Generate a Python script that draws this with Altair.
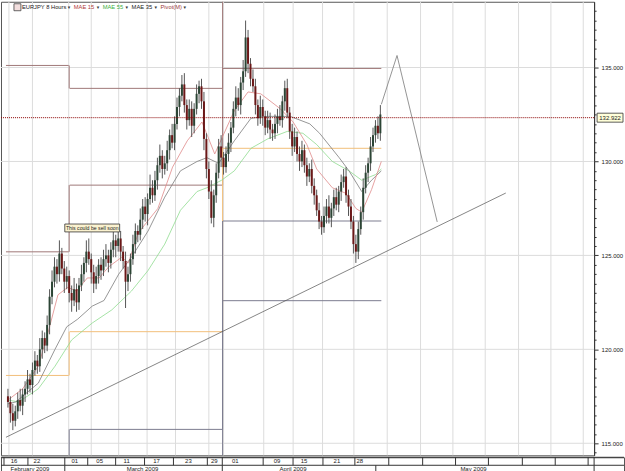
import altair as alt
import pandas as pd

# ---------------- candle data (EURJPY, 8 hour bars) ----------------
first_open = 117.5
closes = [117.2,116.6,116.2,116.7,117.3,117.0,117.6,117.9,118.4,118.1,
          118.9,119.4,119.1,120.0,120.6,120.2,121.3,122.8,123.6,124.4,
          124.0,125.1,124.3,123.6,123.9,123.0,122.6,123.2,122.5,123.4,
          124.0,124.6,125.2,124.8,124.1,123.5,123.9,124.5,124.2,124.8,
          125.0,124.6,125.3,125.8,125.5,125.9,125.2,124.7,123.6,124.0,
          124.8,125.6,126.3,126.1,126.9,127.6,127.2,128.0,128.6,128.2,
          129.0,129.8,130.3,129.6,129.9,130.6,131.4,131.0,132.0,132.9,
          133.5,134.1,133.0,132.2,132.8,131.9,132.8,133.6,134.0,133.2,
          131.2,129.6,128.4,127.0,128.2,129.4,130.8,130.2,129.7,130.4,
          131.0,131.8,132.8,133.4,133.0,134.2,134.8,136.6,135.2,134.4,
          134.0,133.0,132.3,132.9,132.4,131.8,132.2,131.7,131.5,132.0,
          132.4,132.2,133.2,133.9,132.6,131.6,130.8,131.3,130.4,130.0,
          130.6,129.8,129.2,129.6,128.7,128.2,127.4,126.8,126.5,127.1,
          127.6,127.0,127.5,128.1,127.7,128.4,128.9,129.2,128.2,127.6,
          126.8,125.6,125.2,126.4,127.3,128.6,129.4,129.9,130.8,131.4,
          131.9,131.5,132.5]
up_wick = [0.4,0.3,0.5,0.3,0.4,0.6,0.3,0.4,0.5,0.3,
           0.4,0.5,0.3,0.6,0.4,0.3,0.5,0.4,0.6,0.5,
           0.4,0.7,0.3,0.4,0.5,0.3,0.4,0.6,0.3,0.4,
           0.5,0.3,0.6,0.7,0.3,0.4,0.5,0.3,0.4,0.5,
           0.6,0.3,0.4,0.5,0.3,0.6,0.4,0.3,0.5,0.4,
           0.3,0.5,0.4,0.3,0.6,0.4,0.5,0.3,0.7,0.4,
           0.5,0.4,0.6,0.3,0.4,0.5,0.3,0.6,0.4,0.5,
           0.4,0.5,0.6,0.3,0.5,0.4,0.3,0.5,0.3,0.4,
           0.5,0.3,0.4,0.6,0.3,0.5,0.4,0.6,0.3,0.4,
           0.5,0.3,0.4,0.6,0.5,0.3,0.6,0.9,0.4,0.3,
           0.5,0.4,0.3,0.6,0.4,0.3,0.5,0.4,0.3,0.5,
           0.4,0.6,0.3,0.4,0.5,0.3,0.4,0.5,0.3,0.4,
           0.5,0.3,0.4,0.3,0.5,0.4,0.3,0.4,0.3,0.5,
           0.4,0.6,0.3,0.4,0.5,0.3,0.4,0.4,0.5,0.3,
           0.4,0.3,0.5,0.4,0.3,0.5,0.4,0.3,0.5,0.4,
           0.3,0.5,0.5]
down_wick = [0.3,0.5,0.5,0.3,0.4,0.3,0.5,0.4,0.3,0.4,
             0.5,0.3,0.4,0.3,0.5,0.4,0.3,0.5,0.4,0.3,
             0.5,0.4,0.3,0.6,0.4,0.5,0.6,0.3,0.5,0.4,
             0.3,0.4,0.5,0.3,0.6,0.5,0.3,0.4,0.5,0.3,
             0.4,0.5,0.3,0.4,0.6,0.3,0.5,0.4,1.4,0.5,
             0.4,0.3,0.5,0.4,0.3,0.5,0.4,0.6,0.3,0.4,
             0.3,0.5,0.4,0.5,0.3,0.4,0.5,0.3,0.4,0.3,
             0.5,0.3,0.4,0.5,0.3,0.6,0.4,0.3,0.5,0.4,
             0.6,0.5,0.4,0.3,0.5,0.4,0.3,0.5,0.4,0.3,
             0.4,0.5,0.3,0.4,0.3,0.5,0.4,0.3,0.5,0.4,
             0.3,0.5,0.4,0.3,0.5,0.4,0.3,0.5,0.4,0.3,
             0.5,0.3,0.4,0.5,0.3,0.4,0.5,0.3,0.4,0.5,
             0.3,0.4,0.5,0.3,0.4,0.5,0.3,0.4,0.4,0.3,
             0.4,0.3,0.5,0.4,0.3,0.4,0.5,0.3,0.4,0.5,
             0.4,0.5,0.6,0.4,0.3,0.4,0.3,0.5,0.4,0.3,
             0.4,0.3,0.4]

# moving averages (bar index, price)
ma15_idx = [0,6,12.4,16.4,20.4,24.4,28,32.4,37.2,41.2,46.4,49.2,53.2,61.2,67.2,73.2,79.2,84.4,92.4,98,103.2,111.2,116.4,122,126,132.4,138,142,144.4,148.4,152.4]
ma15_val = [117.3,117.9,119.1,120.9,122.9,123.3,123.1,123.8,123.8,124.4,124.9,124.6,126.2,127.5,129.7,131.1,132.1,130.4,132.7,133.7,133.6,132.8,132.1,130.9,129.6,128.6,128.3,127.5,127.3,128.5,130.0]
ma35_idx = [0,3.2,12.4,19.2,24,28.4,34.4,39.2,45.2,50.4,57.2,64,70.4,77.2,81.2,86,92.4,99.2,106,115.2,123.2,127.2,135.2,139.2,144.4,148.4,152.4]
ma35_val = [117.1,117.2,118.2,120.0,121.2,121.6,122.3,122.6,124.0,124.9,126.3,128.1,129.5,130.0,130.2,129.9,131.1,132.3,132.4,132.4,132.0,131.5,130.2,129.5,128.4,129.0,129.5]
ma55_idx = [0,4.4,12.4,19.2,26,34.4,42.4,50.4,57.2,64,70.4,77.2,81.2,87.2,92.4,99.2,106,114,120.4,126,132.4,139.2,144.4,150,152.4]
ma55_val = [117.3,117.2,117.9,119.1,120.5,121.4,122.1,123.1,124.2,125.6,127.4,128.4,128.6,129.0,129.5,130.7,131.2,131.6,131.5,130.9,130.0,129.5,129.0,129.3,129.6]

# monthly pivot levels
piv_start = [-0.8,-0.8,-0.8, 25.2,25.2,25.2,25.2, 87.6,87.6,87.6,87.6]
piv_end   = [24.8,24.8,24.8, 87.6,87.6,87.6,87.6, 152.4,152.4,152.4,152.4]
piv_level = [135.11,125.19,118.61, 133.89,128.74,120.94,115.74, 134.95,130.70,126.83,122.59]
piv_kind  = ["R","R","P", "R","R","P","S", "R","P","S","S"]
conn_x    = [25.0,25.0,25.0,25.0, 87.6,87.6,87.6,87.6,87.6]
conn_from = [135.11,125.19,118.61,112.0, 133.89,128.74,120.94,115.74,112.0]
conn_to   = [133.89,128.74,120.94,115.74, 140.0,134.95,130.70,126.83,122.59]
conn_kind = ["R","R","P","S", "R","R","P","S","S"]

trend_idx = [-0.8, 203.2]
trend_val = [115.32, 128.32]
proj_idx = [152.4, 158.8, 175.2]
proj_val = [133.04, 135.64, 126.78]

last_price_level = 132.33
last_price_label = "132.922"

note_text = "This could be sell soon"
note_idx = [23.2, 45.6]
note_val = [126.25, 126.67]

# date strip
day_sep = [0.4, 10, 24.8, 34, 45.2, 56.8, 68.4, 82, 88, 104.4, 116.4, 128.4, 141.2,
           154.8, 168.4, 181.6, 194.8, 208.4, 221.6, 234.8]
day_lbl = ["16", "22", "01", "05", "11", "17", "23", "29", "01", "09", "15", "21", "28"]
day_lbl_idx = [4.4, 13.6, 28.8, 38.8, 49.6, 61.6, 74.4, 84.8, 93.2, 110, 120.8, 134, 143.2]
month_sep = [24.8, 88, 149.6]
month_lbl = ["February 2009", "March 2009", "April 2009", "May 2009"]
month_lbl_idx = [10.8, 56, 116.4, 188.8]
corner_idx = 237.2

y_ticks = [114.5 + 0.5 * k for k in range(48)]
grid_prices = [115, 120, 125, 130, 135]

# ---------------- styles ----------------
PIV_COL = {"R": "#a07878", "P": "#f2bf7a", "S": "#7c7c90"}
UP_COL, DOWN_COL = "#2c4535", "#6b1818"
FONT = "Liberation Sans"

# ---------------- tables ----------------
opens = [first_open] + closes[:-1]
candles = pd.DataFrame({"i": list(range(len(closes))), "open": opens, "close": closes})
candles["high"] = [max(o, c) + u for o, c, u in zip(opens, closes, up_wick)]
candles["low"] = [min(o, c) - d for o, c, d in zip(opens, closes, down_wick)]
candles["col"] = [UP_COL if c >= o else DOWN_COL for o, c in zip(opens, closes)]

piv = pd.DataFrame({"a": piv_start, "b": piv_end, "v": piv_level,
                    "col": [PIV_COL[k] for k in piv_kind]})
conn = pd.DataFrame({"x": conn_x, "f": conn_from, "t": conn_to,
                     "col": [PIV_COL[k] for k in conn_kind]})
trend = pd.DataFrame({"i": trend_idx, "v": trend_val})
proj = pd.DataFrame({"i": proj_idx, "v": proj_val})

XDOM = [-0.8, 237.2]
YDOM = [114.36, 138.50]
xs = alt.Scale(domain=XDOM, nice=False, zero=False)
ys = alt.Scale(domain=YDOM, nice=False, zero=False)

yaxis = alt.Axis(
    orient="right", values=y_ticks, title=None, grid=False,
    labelExpr="datum.value % 5 == 0 ? format(datum.value, '.3f') : ''",
    tickSize={"condition": {"test": "datum.value % 5 == 0", "value": 4}, "value": 2},
    labelFont=FONT, labelFontSize=6, labelColor="#222222", labelPadding=3,
    tickColor="#333333", domainColor="#333333", labelBound=False, labelFlush=False,
    labelOverlap=False,
)


def X(f):
    return alt.X(f, type="quantitative", scale=xs, axis=None)


def Y(f):
    return alt.Y(f, type="quantitative", scale=ys, axis=yaxis)


def C(f):
    return alt.Color(f, type="nominal", scale=None, legend=None)


layers = []
# gridlines
layers.append(alt.Chart(pd.DataFrame({"x": day_sep})).mark_rule(color="#dcdcdc", strokeWidth=1)
              .encode(x=X("x")))
layers.append(alt.Chart(pd.DataFrame({"p": grid_prices})).mark_rule(color="#dcdcdc", strokeWidth=1)
              .encode(y=Y("p")))
# pivot lines
layers.append(alt.Chart(piv).mark_rule(strokeWidth=1, clip=True).encode(
    x=X("a"), x2="b", y=Y("v"), color=C("col")))
layers.append(alt.Chart(conn).mark_rule(strokeWidth=1, clip=True).encode(
    x=X("x"), y=Y("f"), y2="t", color=C("col")))
# trend & projection
layers.append(alt.Chart(trend).mark_line(color="#505050", strokeWidth=0.7, clip=True)
              .encode(x=X("i"), y=Y("v")))
layers.append(alt.Chart(proj).mark_line(color="#7a7a7a", strokeWidth=0.8, clip=True)
              .encode(x=X("i"), y=Y("v")))
# moving averages
for mi, mv, mc in [(ma55_idx, ma55_val, "#8fdc8f"), (ma35_idx, ma35_val, "#7c7c7c"),
                   (ma15_idx, ma15_val, "#e08a8a")]:
    layers.append(alt.Chart(pd.DataFrame({"i": mi, "v": mv})).mark_line(
        strokeWidth=0.8, color=mc, clip=True).encode(x=X("i"), y=Y("v")))
# candles
layers.append(alt.Chart(candles).mark_rule(color="#555555", strokeWidth=1).encode(
    x=X("i"), y=Y("low"), y2="high"))
layers.append(alt.Chart(candles).mark_bar(size=2).encode(
    x=X("i"), y=Y("open"), y2="close", color=C("col")))
# last price dotted line
layers.append(alt.Chart(pd.DataFrame({"p": [last_price_level]})).mark_rule(
    color="#8b0000", strokeWidth=1, strokeDash=[1, 1]).encode(y=Y("p")))
# note box
note = pd.DataFrame({"a": [note_idx[0]], "b": [note_idx[1]], "c": [note_val[0]], "d": [note_val[1]],
                     "m": [sum(note_idx) / 2], "n": [sum(note_val) / 2], "t": [note_text]})
layers.append(alt.Chart(note).mark_rect(fill="#fbf2cf", stroke="#333333", strokeWidth=0.8).encode(
    x=X("a"), x2="b", y=Y("c"), y2="d"))
layers.append(alt.Chart(note).mark_text(font=FONT, fontSize=5.2, color="#222222", baseline="middle").encode(
    x=X("m"), y=Y("n"), text="t:N"))

# header
dummy = pd.DataFrame({"a": [0]})
layers.append(alt.Chart(dummy).mark_rect(fill="#f2dede", stroke="#444444", strokeWidth=0.8).encode(
    x=alt.value(13), x2=alt.value(20), y=alt.value(2), y2=alt.value(9)))
header_text = ["EURJPY 8 Hours", "MAE 15", "MAE 55", "MAE 35", "Pivot(M)"]
header_colors = ["#222222", "#b23a3a", "#3cb043", "#222222", "#9b3b3b"]
header_x = [21, 73, 102, 131, 160]
arrow_x = [66, 95, 124, 153, 182]
for t, c, px, ax in zip(header_text, header_colors, header_x, arrow_x):
    layers.append(alt.Chart(dummy).mark_text(text=t, font=FONT, fontSize=5.8, color=c, align="left",
                                             baseline="middle").encode(x=alt.value(px), y=alt.value(5)))
    layers.append(alt.Chart(dummy).mark_text(text="▾", font="DejaVu Sans", fontSize=5, color="#333333",
                                             align="left", baseline="middle").encode(x=alt.value(ax + 1), y=alt.value(5)))

# price tag on the axis
layers.append(alt.Chart(pd.DataFrame({"p": [last_price_level]})).mark_rect(
    fill="#ffffd9", stroke="#333333", strokeWidth=0.8, height=9).encode(
    x=alt.value(598), x2=alt.value(624), y=Y("p")))
layers.append(alt.Chart(pd.DataFrame({"p": [last_price_level], "t": [last_price_label]})).mark_text(
    font=FONT, fontSize=6, color="#222222", baseline="middle").encode(
    x=alt.value(611), y=Y("p"), text="t:N"))

main = alt.layer(*layers).properties(width=595, height=455)

# ---------------- date strip ----------------
sxs = alt.Scale(domain=[XDOM[0], 249.2], nice=False, zero=False)
sys_ = alt.Scale(domain=[0, 2], reverse=True, nice=False, zero=False)


def SX(f):
    return alt.X(f, type="quantitative", scale=sxs, axis=None)


def SY(f):
    return alt.Y(f, type="quantitative", scale=sys_, axis=None)


dsep = pd.DataFrame({"x": day_sep + [corner_idx], "a": 0, "b": 1})
msep = pd.DataFrame({"x": month_sep + [corner_idx], "a": 1, "b": 2})
dl = pd.DataFrame({"x": day_lbl_idx, "t": day_lbl, "y": 0.5})
ml = pd.DataFrame({"x": month_lbl_idx, "t": month_lbl, "y": 1.5})
strip = alt.layer(
    alt.Chart(pd.DataFrame({"y": [0, 1]})).mark_rule(color="#333333", strokeWidth=1).encode(y=SY("y")),
    alt.Chart(dsep).mark_rule(color="#333333", strokeWidth=1).encode(x=SX("x"), y=SY("a"), y2="b"),
    alt.Chart(msep).mark_rule(color="#333333", strokeWidth=1).encode(x=SX("x"), y=SY("a"), y2="b"),
    alt.Chart(dl).mark_text(font=FONT, fontSize=6, color="#222222", baseline="middle").encode(
        x=SX("x"), y=SY("y"), text="t:N"),
    alt.Chart(ml).mark_text(font=FONT, fontSize=6, color="#222222", baseline="middle").encode(
        x=SX("x"), y=SY("y"), text="t:N"),
).properties(width=625, height=16)

chart = alt.vconcat(main, strip, spacing=0).properties(
    padding=0, background="white"
).configure_view(stroke="#555555", strokeWidth=1)

chart.save("out.html", embed_options={"renderer": "svg", "actions": False})
